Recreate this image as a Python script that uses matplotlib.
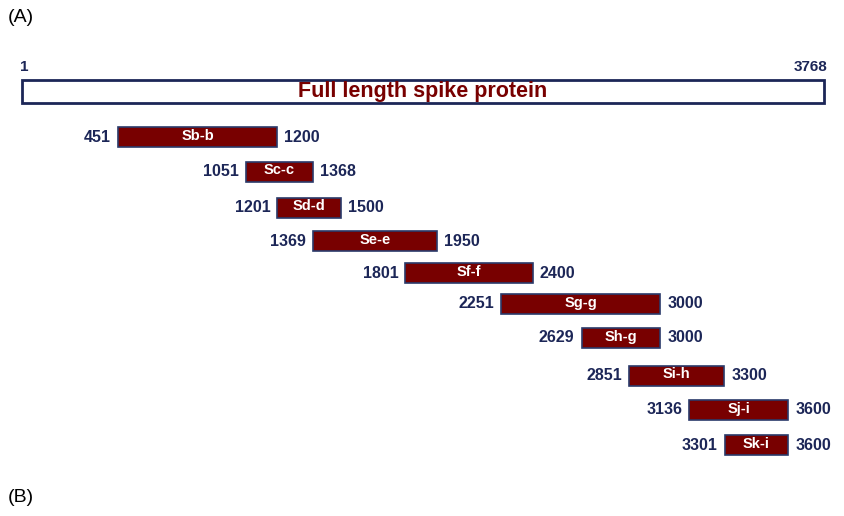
import matplotlib.pyplot as plt
from matplotlib.patches import Rectangle

full_start, full_end = 1, 3768
names = ["Sb-b", "Sc-c", "Sd-d", "Se-e", "Sf-f", "Sg-g", "Sh-g", "Si-h", "Sj-i", "Sk-i"]
starts = [451, 1051, 1201, 1369, 1801, 2251, 2629, 2851, 3136, 3301]
ends = [1200, 1368, 1500, 1950, 2400, 3000, 3000, 3300, 3600, 3600]

navy = "#1c2657"
red = "#780000"
plt.rcParams['font.family'] = ['Liberation Sans', 'DejaVu Sans']

fig = plt.figure(figsize=(8.44, 5.16), dpi=100)
ax = fig.add_axes([0, 0, 1, 1])
# x in residue units, y in pixels from the top
scale = 802 / (full_end - full_start)
ax.set_xlim(full_start - 22 / scale, full_start + 822 / scale)
ax.set_ylim(516, 0)
ax.axis('off')

# full length bar
ax.add_patch(Rectangle((full_start, 80), full_end - full_start, 23,
                       facecolor='white', edgecolor=navy, linewidth=2))
ax.text((full_start + full_end) / 2, 91, "Full length spike protein", color=red,
        fontsize=15.5, fontweight='bold', ha='center', va='center')
ax.text(full_start - 2 / scale, 67, str(full_start), color=navy, fontsize=11,
        fontweight='bold', ha='left', va='center')
ax.text(full_end + 3 / scale, 67, str(full_end), color=navy, fontsize=11,
        fontweight='bold', ha='right', va='center')

ys = [137, 172, 208, 241, 273, 304, 338, 376, 410, 445]
for name, s, e, y in zip(names, starts, ends, ys):
    ax.add_patch(Rectangle((s, y - 10), e - s, 20, facecolor=red,
                           edgecolor='#2a3a6a', linewidth=1.2))
    ax.text((s + e) / 2, y - 1.5, name, color='white', fontsize=10.5,
            fontweight='bold', ha='center', va='center')
    ax.annotate(str(s), (s, y), xytext=(-5, 0), textcoords='offset points',
                color=navy, fontsize=11.5, fontweight='bold', ha='right', va='center')
    ax.annotate(str(e), (e, y), xytext=(5, 0), textcoords='offset points',
                color=navy, fontsize=11.5, fontweight='bold', ha='left', va='center')

fig.text(8 / 844, 1 - 18 / 516, "(A)", fontsize=14, ha='left', va='center')
fig.text(8 / 844, 1 - 498 / 516, "(B)", fontsize=14, ha='left', va='center')

fig.savefig("out.png", dpi=100)
